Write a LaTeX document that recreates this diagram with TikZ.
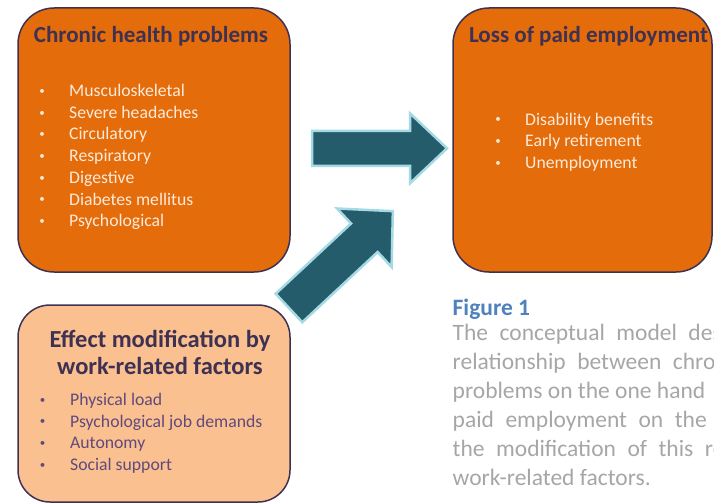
\documentclass[tikz,border=0pt]{standalone}
\usepackage{fontspec}
\setmainfont{Carlito}
\definecolor{boxorange}{RGB}{228,108,10}
\definecolor{boxedge}{RGB}{63,49,81}
\definecolor{peach}{RGB}{250,192,144}
\definecolor{titleink}{RGB}{63,49,81}
\definecolor{lightink}{RGB}{253,234,218}
\definecolor{purpleink}{RGB}{96,74,123}
\definecolor{figblue}{RGB}{79,129,189}
\definecolor{capgray}{RGB}{166,166,166}
\definecolor{arrowteal}{RGB}{36,92,107}
\definecolor{arrowedge}{RGB}{165,218,228}
% small list bullet, centred in a box of the given width
\newcommand{\listdot}[1]{\makebox[#1]{\raisebox{2.2pt}{\fontsize{11}{11}\selectfont\textbullet}}}
\begin{document}
\begin{tikzpicture}[x=1pt,y=-1pt,
  panel/.style={draw=boxedge, line width=1.5pt, rounded corners=36pt, inner sep=0pt},
  headline/.style={anchor=base, inner sep=0pt, text=titleink, font=\fontsize{23}{27}\selectfont\bfseries},
  listitem/.style={anchor=base west, inner sep=0pt, font=\fontsize{17.7}{21.7}\selectfont},
  figlabel/.style={anchor=base west, inner sep=0pt, text=figblue, font=\fontsize{23.5}{29}\selectfont\bfseries},
  capline/.style={anchor=base west, inner sep=0pt, text=capgray, font=\fontsize{23.5}{29}\selectfont},
  spread/.style={execute at begin node={\spaceskip=11.5pt\relax}},
  blockarrow/.style={fill=arrowteal, draw=arrowedge, line width=2.5pt, line join=miter}
]
\useasboundingbox (0,0) rectangle (714,503);

% the three panels
\node[panel, fill=boxorange, minimum width=272pt, minimum height=264pt] (chronic) at (154,140) {};
\node[panel, fill=boxorange, minimum width=259pt, minimum height=264pt] (loss) at (582.5,140) {};
\node[panel, fill=peach, rounded corners=32pt, minimum width=272pt, minimum height=197pt] (modif) at (154,403.5) {};

% panel headings
\node[headline] (chronic-title) at (151,43) {Chronic health problems};
\node[headline] (loss-title) at (588.5,42) {Loss of paid employment};
\node[headline, font=\fontsize{24.5}{29}\selectfont\bfseries] (modif-title1) at (160,347) {Effect modification by};
\node[headline, font=\fontsize{24.5}{29}\selectfont\bfseries] (modif-title2) at (160,374) {work-related factors};

% bullet lists
\foreach \t [count=\i] in {Musculoskeletal, Severe headaches, Circulatory, Respiratory, Digestive, Diabetes mellitus, Psychological}
  \node[listitem, text=lightink] (chronic-\i) at (15,{96.5+21.7*(\i-1)}) {\listdot{54pt}\t};
\foreach \t [count=\i] in {Disability benefits, Early retirement, Unemployment}
  \node[listitem, text=lightink] (loss-\i) at (471,{125+21.7*(\i-1)}) {\listdot{54pt}\t};
\foreach \t [count=\i] in {Physical load, Psychological job demands, Autonomy, Social support}
  \node[listitem, text=purpleink] (modif-\i) at (15,{405.3+21.7*(\i-1)}) {\listdot{55pt}\t};

% block arrows
\begin{scope}[shift={(312,148.3)}]
  \filldraw[blockarrow] (0,-17.5) -- (98,-17.5) -- (98,-35) -- (135,0) -- (98,35) -- (98,17.5) -- (0,17.5) -- cycle;
\end{scope}
\begin{scope}[shift={(289,308)}, rotate=43]
  \filldraw[blockarrow] (0,-19.5) -- (103,-19.5) -- (103,-40) -- (142,0) -- (103,40) -- (103,19.5) -- (0,19.5) -- cycle;
\end{scope}

% figure caption
\begin{scope}
  \clip (0,0) rectangle (714,503);
  \node[figlabel] (fig) at (452.5,315) {Figure 1};
  \node[capline, spread] (cap-1) at (452.5,340.5) {The conceptual model describing};
  \node[capline, spread] (cap-2) at (452.5,369.5) {relationship between chronic};
  \node[capline] (cap-3) at (452.5,398.5) {problems on the one hand};
  \node[capline, spread] (cap-4) at (452.5,427.5) {paid employment on the other};
  \node[capline, spread] (cap-5) at (452.5,456.5) {the modification of this relationship};
  \node[capline] (cap-6) at (452.5,485.5) {work-related factors.};
\end{scope}
\end{tikzpicture}
\end{document}
